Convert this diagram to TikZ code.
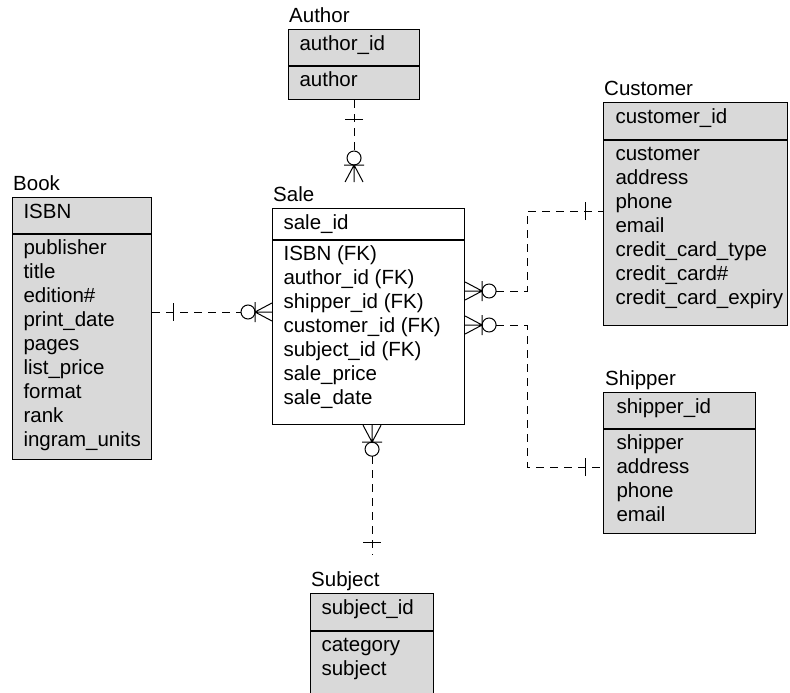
\documentclass[tikz,border=0pt]{standalone}
\usepackage{fontspec}
\setmainfont{Liberation Sans}
\usepackage{xcolor}
\usetikzlibrary{positioning}

\definecolor{entity}{RGB}{217,217,217}
\hfuzz=100pt
\newcommand{\fieldbox}[3]{\parbox[t][#2][t]{#1}{\raggedright\strut#3}}

\begin{document}
\begin{tikzpicture}[x=1pt, y=-1pt,
    every node/.style={font=\fontsize{20.5}{24}\selectfont},
    keybox/.style={draw, line width=1.1pt, fill=entity, inner xsep=11pt, inner ysep=3.7pt, anchor=north west},
    attrbox/.style={draw, line width=1.1pt, fill=entity, inner xsep=11pt, inner ysep=3.2pt, anchor=north west},
    entname/.style={inner sep=0pt},
    rel/.style={line width=1pt, dash pattern=on 8pt off 6pt},
    notation/.style={line width=1pt},
    pics/crowfoot/.style={code={
        \draw[notation] (0,-9) -- (17,0) -- (0,9) (0,0) -- (17,0) (17,-10) -- (17,10);
        \draw[notation] (24,0) circle (7pt);}},
    pics/onetick/.style={code={\draw[notation] (#1,-9) -- (#1,9);}},
    pics/onetick/.default=18]

    \useasboundingbox (0,0) rectangle (790,693);
    \clip (0,0) rectangle (790,693);

    % entities
    \node [keybox] (author key) at (288,29) {\fieldbox{109pt}{28.6pt}{author\_id}};
    \node [attrbox] (author attr) at (author key.south west) {\fieldbox{109pt}{26.6pt}{author}};
    \node [entname, above right=6.5pt and 1pt of author key.north west, anchor=base west] (author name) {Author};

    \node [keybox] (book key) at (12,197) {\fieldbox{117pt}{28.6pt}{ISBN}};
    \node [attrbox] (book attr) at (book key.south west) {\fieldbox{117pt}{218.6pt}{publisher\\title\\edition\#\\print\_date\\pages\\list\_price\\format\\rank\\ingram\_units}};
    \node [entname, above right=6.5pt and 1pt of book key.north west, anchor=base west] (book name) {Book};

    \node [keybox, fill=white] (sale key) at (272,208) {\fieldbox{170pt}{23.6pt}{sale\_id}};
    \node [attrbox, fill=white] (sale attr) at (sale key.south west) {\fieldbox{170pt}{177.6pt}{ISBN (FK)\\author\_id (FK)\\shipper\_id (FK)\\customer\_id (FK)\\subject\_id (FK)\\sale\_price\\sale\_date}};
    \node [entname, above right=6.5pt and 1pt of sale key.north west, anchor=base west] (sale name) {Sale};

    \node [keybox, inner xsep=12pt] (customer key) at (603,102) {\fieldbox{160pt}{29.6pt}{customer\_id}};
    \node [attrbox, inner xsep=12pt] (customer attr) at (customer key.south west) {\fieldbox{160pt}{178.6pt}{customer\\address\\phone\\email\\credit\_card\_type\\credit\_card\#\\credit\_card\_expiry}};
    \node [entname, above right=6.5pt and 1pt of customer key.north west, anchor=base west] (customer name) {Customer};

    \node [keybox, inner xsep=13pt] (shipper key) at (603,392) {\fieldbox{126pt}{28.6pt}{shipper\_id}};
    \node [attrbox, inner xsep=13pt] (shipper attr) at (shipper key.south west) {\fieldbox{126pt}{97.6pt}{shipper\\address\\phone\\email}};
    \node [entname, above right=6.5pt and 2pt of shipper key.north west, anchor=base west] (shipper name) {Shipper};

    \node [keybox] (subject key) at (310,593) {\fieldbox{101pt}{29.6pt}{subject\_id}};
    \node [attrbox] (subject attr) at (subject key.south west) {\fieldbox{101pt}{93.6pt}{category\\subject}};
    \node [entname, above right=6.5pt and 1pt of subject key.north west, anchor=base west] (subject name) {Subject};

    % relationships
    \coordinate (sale top) at (author attr.south |- 0,182);
    \draw [rel, shorten >=31pt] (author attr.south) -- (sale top);
    \pic [rotate=-90] at (author attr.south) {onetick=19};
    \pic [rotate=90] at (sale top) {crowfoot};

    \coordinate (book end) at (book attr.east |- 0,312);
    \coordinate (sale left) at (sale attr.west |- 0,312);
    \draw [rel, shorten >=31pt] (book end) -- (sale left);
    \pic at (book end) {onetick=21};
    \pic [rotate=180] at (sale left) {crowfoot};

    \coordinate (split) at (527,0);
    \coordinate (sale cust) at (sale attr.east |- 0,291);
    \coordinate (cust end) at (customer attr.west |- 0,211);
    \draw [rel, shorten <=31pt] (sale cust) -- (sale cust -| split) |- (cust end);
    \pic at (sale cust) {crowfoot};
    \pic [rotate=180] at (cust end) {onetick};

    \coordinate (sale ship) at (sale attr.east |- 0,325);
    \coordinate (ship end) at (shipper attr.west |- 0,467);
    \draw [rel, shorten <=31pt] (sale ship) -- (sale ship -| split) |- (ship end);
    \pic at (sale ship) {crowfoot};
    \pic [rotate=180] at (ship end) {onetick};

    \coordinate (subj top) at (subject key.north |- 0,555);
    \coordinate (sale bottom) at (subj top |- sale attr.south);
    \draw [rel, shorten <=31pt] (sale bottom) -- (subj top);
    \pic [rotate=-90] at (sale bottom) {crowfoot};
    \pic [rotate=90] at (subj top) {onetick=13};
\end{tikzpicture}
\end{document}
